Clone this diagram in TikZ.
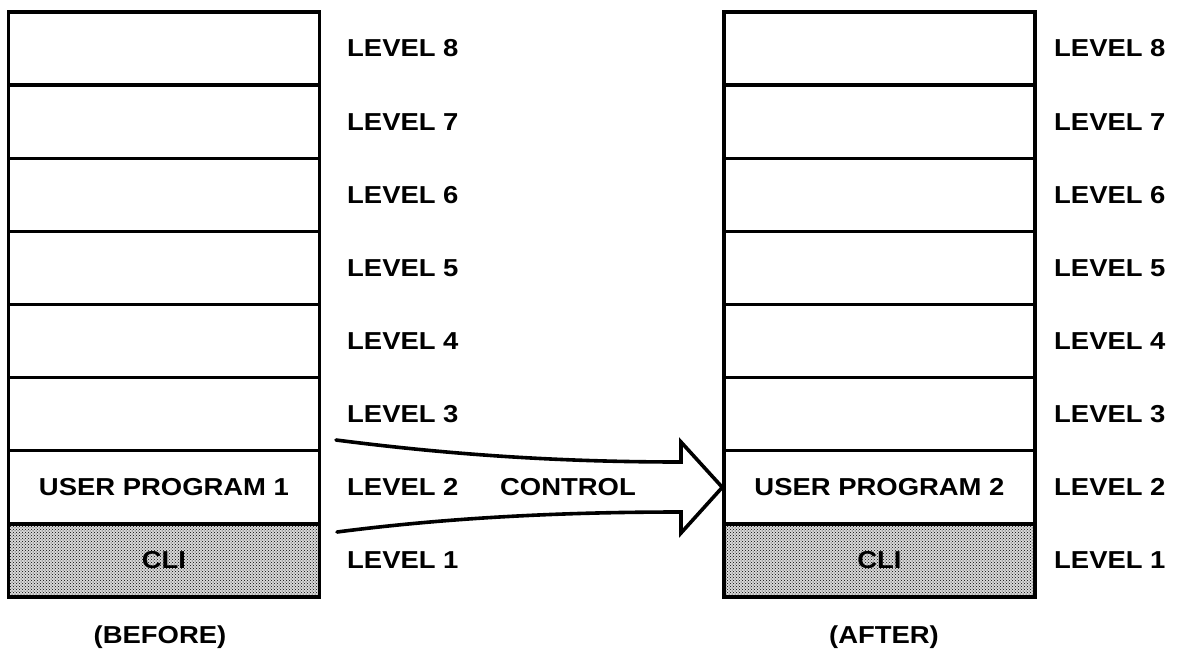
\documentclass[tikz,border=0pt]{standalone}
\usepackage{fontspec}
\setmainfont{Liberation Sans}[FakeStretch=1.12]
\usetikzlibrary{patterns}
\begin{document}
\begin{tikzpicture}[x=1pt,y=-1pt,
  txt/.style={font=\bfseries\fontsize{24.5}{26}\selectfont, inner sep=0pt},
  slot/.style={txt, draw, line width=3.4pt, minimum width=311pt,
               minimum height=73.1pt},
  shaded/.style={slot, preaction={fill=gray!30},
                 pattern=crosshatch dots, pattern color=black},
  lvl/.style={txt, anchor=west},
  arrowline/.style={draw, line width=3.6pt, line join=miter, line cap=round}]
\useasboundingbox (0,0) rectangle (1187,654);

% upper levels, empty in both stacks
\foreach \i in {3,...,8} {
  \pgfmathsetmacro\yc{12+(8.5-\i)*73.125}
  \node[slot] (A\i) at (164,\yc) {};
  \node[slot] (B\i) at (879.5,\yc) {};
  \node[lvl] (LA\i) at (347,\yc) {LEVEL \i};
  \node[lvl] (LB\i) at (1054,\yc) {LEVEL \i};
}

% level 2: user programs
\node[slot] (A2) at (164,487.3) {USER PROGRAM 1};
\node[slot] (B2) at (879.5,487.3) {USER PROGRAM 2};
\node[lvl] (LA2) at (347,487.3) {LEVEL 2};
\node[lvl] (LB2) at (1054,487.3) {LEVEL 2};

% level 1: command line interpreter
\node[shaded] (A1) at (164,560.4) {CLI};
\node[shaded] (B1) at (879.5,560.4) {CLI};
\node[lvl] (LA1) at (347,560.4) {LEVEL 1};
\node[lvl] (LB1) at (1054,560.4) {LEVEL 1};

% captions
\node[txt] (before) at (160,637) {(BEFORE)};
\node[txt] (after) at (884,637) {(AFTER)};

% transfer of control
\node[txt] (ctl) at (568,487.3) {CONTROL};
\coordinate (ua) at (336,440);
\coordinate (la) at (337,532);
\path[arrowline] (ua) .. controls (430,452) and (540,462) .. (681,462)
  -- (681,442) -- (B2.west) -- (681,533) -- (681,512)
  .. controls (540,512) and (430,520) .. (la);
\end{tikzpicture}
\end{document}
